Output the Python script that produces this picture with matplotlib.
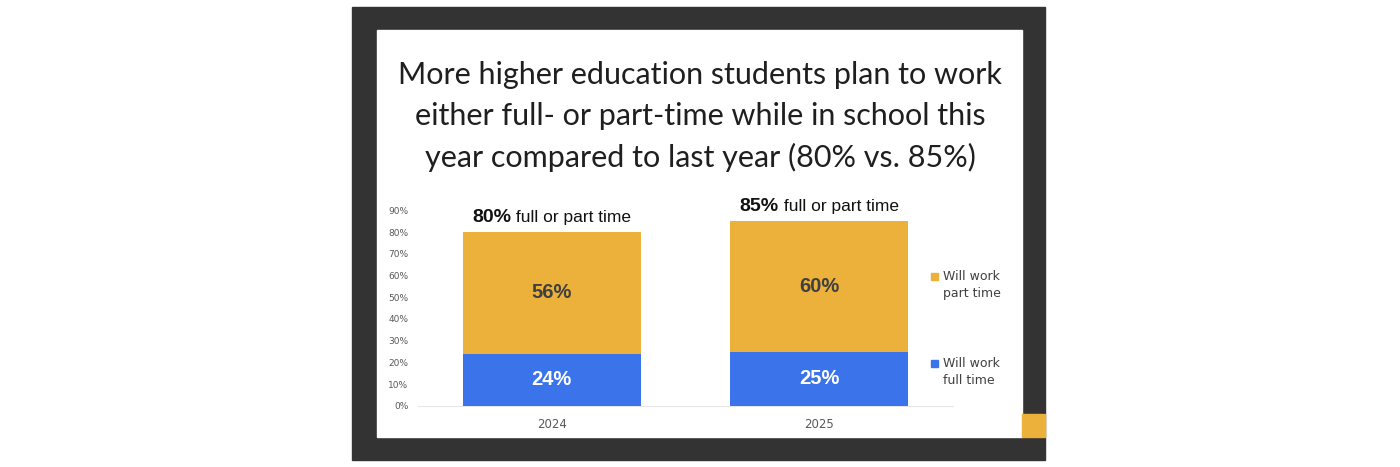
import matplotlib.pyplot as plt
from matplotlib.patches import Rectangle

years = ["2024", "2025"]
full_time = [24, 25]
part_time = [56, 60]
totals = [80, 85]
y_ticks = [0, 10, 20, 30, 40, 50, 60, 70, 80, 90]

yellow = '#ECB13B'
blue = '#3A73EA'
dark = '#333333'

W, H = 1400, 467
fig = plt.figure(figsize=(14, 4.67), dpi=100)
fig.patch.set_facecolor('white')

# frame around the slide
fig.patches.append(Rectangle((352 / W, 1 - 460 / H), (1045 - 352) / W, (460 - 7) / H,
                             transform=fig.transFigure, color=dark, zorder=0))
fig.patches.append(Rectangle((377 / W, 1 - 437 / H), (1022 - 377) / W, (437 - 30) / H,
                             transform=fig.transFigure, color='white', zorder=0.5))
fig.patches.append(Rectangle((1022 / W, 1 - 437 / H), (1045 - 1022) / W, (437 - 414) / H,
                             transform=fig.transFigure, color=yellow, zorder=0.5))

title = ["More higher education students plan to work",
         "either full- or part-time while in school this",
         "year compared to last year (80% vs. 85%)"]
for i, line in enumerate(title):
    fig.text(700 / W, 1 - (75 + 41 * i) / H, line, ha='center', va='center',
             fontsize=22, family='Lato', color='#1f1f1f')

ax = fig.add_axes([418 / W, 1 - 405.7 / H, (953 - 418) / W, (405.7 - 210.6) / H])
ax.set_zorder(2)
ax.patch.set_alpha(0)
x = range(len(years))
ax.bar(x, full_time, width=0.665, color=blue, zorder=3)
ax.bar(x, part_time, width=0.665, bottom=full_time, color=yellow, zorder=3)

tops = []
for i in x:
    ax.text(i, full_time[i] / 2, f"{full_time[i]}%", ha='center', va='center',
            color='white', fontsize=14.5, fontweight='bold', family='Liberation Sans')
    ax.text(i, full_time[i] + part_time[i] / 2, f"{part_time[i]}%", ha='center', va='center',
            color='#404040', fontsize=14.5, fontweight='bold', family='Liberation Sans')
    t1 = ax.annotate(f"{totals[i]}%", (i, totals[i]), xytext=(0, 11), textcoords='offset points',
                     ha='left', va='center', fontsize=14, fontweight='bold', color='#111111',
                     family='Liberation Sans')
    t2 = ax.annotate(" full or part time", (i, totals[i]), xytext=(0, 11), textcoords='offset points',
                     ha='left', va='center', fontsize=12.5, color='#111111', family='Liberation Sans')
    tops.append((t1, t2))

ax.set_xlim(-0.5, 1.5)
ax.set_ylim(0, 90)
ax.set_yticks(y_ticks)
ax.set_yticklabels([f"{t}%" for t in y_ticks])
ax.set_xticks(list(x))
ax.set_xticklabels(years)
ax.tick_params(axis='y', length=0, labelsize=6.5, labelcolor='#595959', pad=7)
ax.tick_params(axis='x', length=0, labelsize=8.5, labelcolor='#595959', pad=9)
for s in ['top', 'right', 'left']:
    ax.spines[s].set_visible(False)
ax.spines['bottom'].set_color('#e6e6e6')

# centre the two-part total labels over each bar
fig.canvas.draw()
renderer = fig.canvas.get_renderer()
for t1, t2 in tops:
    w1 = t1.get_window_extent(renderer).width * 72 / fig.dpi
    w2 = t2.get_window_extent(renderer).width * 72 / fig.dpi
    start = -(w1 + w2) / 2
    t1.set_position((start, 11))
    t2.set_position((start + w1, 11))

# legend drawn to the right of the bars
fig.patches.append(Rectangle((931 / W, 1 - 280 / H), 7 / W, 7 / H,
                             transform=fig.transFigure, color=yellow, zorder=3))
fig.text(943 / W, 1 - 285 / H, "Will work\npart time", ha='left', va='center',
         fontsize=9, color='#404040', linespacing=1.45)
fig.patches.append(Rectangle((931 / W, 1 - 367 / H), 7 / W, 7 / H,
                             transform=fig.transFigure, color=blue, zorder=3))
fig.text(943 / W, 1 - 372 / H, "Will work\nfull time", ha='left', va='center',
         fontsize=9, color='#404040', linespacing=1.45)

fig.savefig('out.png', dpi=100, facecolor='white')
